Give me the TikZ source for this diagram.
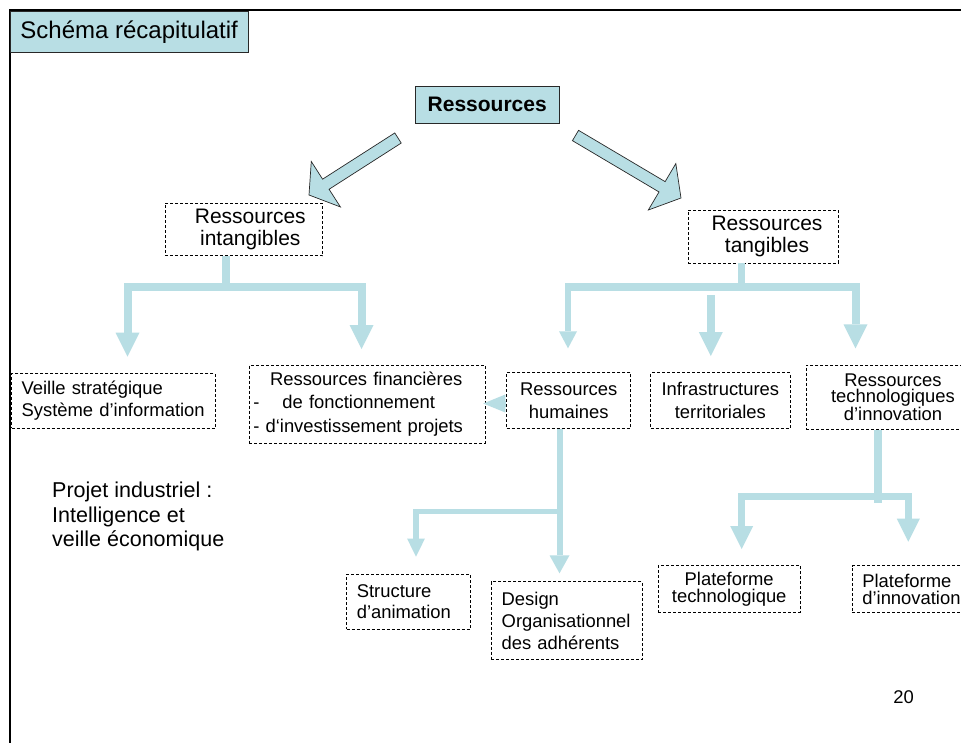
\documentclass[tikz,border=0pt]{standalone}
\usepackage{fontspec}
\setmainfont{Liberation Sans}
\usetikzlibrary{arrows.meta,calc}
\definecolor{pale}{RGB}{184,222,228}
\definecolor{edge}{RGB}{40,40,40}

% wide block arrow: tail, tip, head length, head half-width
\newcommand\resarrow[4]{%
  \coordinate (hb) at ($(#2)!#3!(#1)$);
  \filldraw[fat] ($(#1)!6pt!90:(#2)$) -- ($(hb)!6pt!90:(#2)$) -- ($(hb)!#4!90:(#2)$)
    -- (#2) -- ($(hb)!#4!-90:(#2)$) -- ($(hb)!6pt!-90:(#2)$) -- ($(#1)!6pt!-90:(#2)$) -- cycle;}

\tikzset{
  fat/.style={fill=pale, draw=edge, line width=0.7pt, line join=miter},
  dbox/.style={draw=black, line width=0.8pt, dash pattern=on 3pt off 2pt, inner sep=0pt, rectangle},
  filled/.style={fill=pale, draw=edge, line width=0.9pt, inner sep=0pt, rectangle},
  big/.style={font=\fontsize{21}{22}\selectfont, align=center},
  small/.style={font=\fontsize{18.4}{#1}\selectfont},
  tree/.style={draw=pale, line width=#1, line join=miter},
  hd/.style 2 args={-{Triangle[width=#1pt,length=#2pt,line width=0pt]}},
}

\begin{document}
\begin{tikzpicture}[x=1pt,y=-1pt]
\useasboundingbox (0,0) rectangle (961,742);
\clip (0,0) rectangle (961,742);
\fill[white] (0,0) rectangle (961,742);

% slide frame
\draw[line width=2.6pt, line join=miter] (10,760) -- (10,10) -- (980,10);

% title and root
\node[filled, minimum width=238.3, minimum height=41, font=\fontsize{24}{26}\selectfont] (ttl) at (129.2,32.2) {Schéma récapitulatif};
\node[filled, minimum width=144.3, minimum height=37.3, font=\bfseries\fontsize{21}{22}\selectfont] (res) at (487.2,104.7) {Ressources};

% second level
\node[dbox, big, minimum width=157.7, minimum height=52.7] (ri) at (243.8,229.5) {\hspace*{13pt}Ressources\\\hspace*{13pt}intangibles};
\node[dbox, big, minimum width=150, minimum height=53] (rt) at (763,236.5) {\hspace*{8pt}Ressources\\\hspace*{8pt}tangibles};

% third level
\node[dbox, small=21.6, minimum width=203.3, minimum height=55, text width=183.3, align=left] (vs) at (113.3,400.8) {Veille stratégique\\Système d’information};
\node[dbox, small=23.3, minimum width=235.7, minimum height=78, text width=227.7, align=left] (rf) at (367.2,404) {\hspace*{16.7pt}Ressources financières\\-\hspace{23pt}de fonctionnement\\- d‘investissement projets};
\node[dbox, small=23, minimum width=124, minimum height=55.6, align=center] (rh) at (568.7,400.5) {Ressources\\humaines};
\node[dbox, small=23, minimum width=139.3, minimum height=55.6, align=center] (inf) at (720.3,400.5) {Infrastructures\\territoriales};
\node[dbox, small=16.7, minimum width=174, minimum height=64.3, align=center] (rti) at (893,397.2) {Ressources\\technologiques\\d’innovation};

% fourth level
\node[dbox, small=21, minimum width=123.3, minimum height=55.3, text width=103, align=left] (sa) at (408.3,601.7) {Structure\\d’animation};
\node[dbox, small=22, minimum width=151.3, minimum height=77.6, text width=130, align=left] (dz) at (566.7,620.5) {Design\\Organisationnel\\des adhérents};
\node[dbox, small=17, minimum width=141.7, minimum height=47, align=center] (pt) at (729.2,589.2) {Plateforme\\technologique};
\node[dbox, small=17, minimum width=122.7, minimum height=47, text width=102.7, align=left] (pn) at (913.7,589.2) {Plateforme\\d’innovation};

% free text
\node[anchor=west, inner sep=0pt, font=\fontsize{21.5}{24.5}\selectfont, align=left] (pj) at (52,516.5) {Projet industriel :\\Intelligence et\\veille économique};
\node[inner sep=0pt, font=\fontsize{18.4}{20}\selectfont] (pg) at (903.5,697) {20};

% block arrows from the root
\coordinate (la0) at (398,138); \coordinate (la1) at (309,195);
\resarrow{la0}{la1}{20pt}{27pt}
\coordinate (ra0) at (575.5,135.5); \coordinate (ra1) at (681,198);
\resarrow{ra0}{ra1}{22pt}{27pt}

% intangible branch
\coordinate (j1) at (226,287);
\coordinate (t11) at (127.5,356.7);
\coordinate (t12) at (361.5,349);
\draw[tree=8] (ri.south -| j1) -- (j1);
\draw[tree=8, hd={24}{24}] (j1) -| (t11);
\draw[tree=8, hd={24}{24}] (j1) -| (t12);

% tangible branch
\coordinate (j2) at (741.7,287);
\coordinate (t21) at (568,348.3);
\coordinate (t22) at (855.5,348.3);
\coordinate (t23) at (710.8,356);
\draw[tree=7] (rt.south -| j2) -- (j2);
\draw[tree=8] (j2) -- ($(j2 -| t21)+(-3,0)$);
\draw[tree=5.5, hd={18}{17}] ($(j2 -| t21)+(0,-4)$) -- (t21);
\draw[tree=8, hd={24}{24}] (j2) -| (t22);
\draw[tree=8, hd={24}{24}] ($(j2 -| t23)+(0,8)$) -- (t23);

% human resources branch
\coordinate (t31) at (559.5,573.3);
\coordinate (j3) at (559.5,511.3);
\coordinate (t32) at (416,556.7);
\draw[tree=6, hd={20}{18}] (rh.south -| t31) -- (t31);
\draw[tree=5.5, hd={17.7}{18}] (j3) -| (t32);
\coordinate (t5) at (483.3,403.5);
\draw[tree=6, hd={18}{22}] (rh.west |- t5) -- (t5);

% technology branch
\coordinate (j4) at (877.5,496.3);
\coordinate (t41) at (741.7,549);
\coordinate (t42) at (908.3,541.7);
\draw[tree=8] (rti.south -| j4) -- ($(j4)+(0,7)$);
\draw[tree=7.5, hd={23}{23}] (j4) -| (t41);
\draw[tree=7, hd={23}{23}] (j4) -| (t42);
\end{tikzpicture}
\end{document}
